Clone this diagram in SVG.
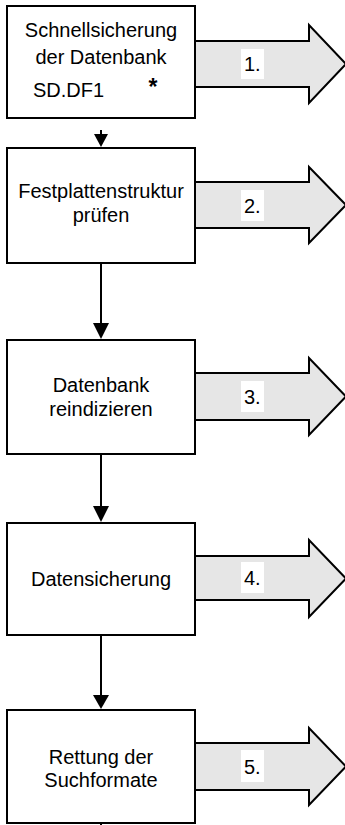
<svg xmlns="http://www.w3.org/2000/svg" width="345" height="825" viewBox="0 0 345 825">
<defs>
<style>
.box{fill:#fff;stroke:#000;stroke-width:2}
.arr{fill:#e6e6e6;stroke:#000;stroke-width:2;stroke-linejoin:miter}
.t{font-family:"Liberation Sans",Arial,sans-serif;font-size:20px;fill:#000;text-anchor:middle}
.n{font-family:"Liberation Sans",Arial,sans-serif;font-size:20px;fill:#000}
.lb{fill:#fff}
.c{stroke:#000;stroke-width:2;fill:none}
.h{fill:#000}
</style>
</defs>
<rect width="345" height="825" fill="#fff"/>
<g id="arrow1">
<path class="arr" d="M195,41 H309 V25 L346,64 L309,103 V87 H195"/>
<rect class="lb" x="241" y="49" width="23" height="30"/>
<text class="n" x="244" y="71">1.</text>
</g>
<g id="arrow2">
<path class="arr" d="M195,182 H309 V167 L346,205 L309,243 V228 H195"/>
<rect class="lb" x="241" y="190" width="23" height="31"/>
<text class="n" x="244" y="213">2.</text>
</g>
<g id="arrow3">
<path class="arr" d="M195,373 H309 V358 L346,396.5 L309,435 V420 H195"/>
<rect class="lb" x="241" y="381" width="23" height="31"/>
<text class="n" x="244" y="404">3.</text>
</g>
<g id="arrow4">
<path class="arr" d="M195,556 H309 V540 L346,578.5 L309,617 V600 H195"/>
<rect class="lb" x="241" y="562" width="23" height="31"/>
<text class="n" x="244" y="585">4.</text>
</g>
<g id="arrow5">
<path class="arr" d="M195,743 H309 V728 L346,766.5 L309,805 V790 H195"/>
<rect class="lb" x="241" y="750" width="23" height="32"/>
<text class="n" x="244" y="774">5.</text>
</g>
<g id="node1">
<rect class="box" x="7" y="6" width="188" height="112"/>
<text class="t" x="101" y="37">Schnellsicherung</text>
<text class="t" x="101" y="64">der Datenbank</text>
<text class="t" x="33" y="97" style="text-anchor:start">SD.DF1</text>
<text class="t" x="153" y="95" style="font-weight:bold;font-size:23px">*</text>
</g>
<g id="node2">
<rect class="box" x="7" y="148" width="188" height="115"/>
<text class="t" x="101" y="198">Festplattenstruktur</text>
<text class="t" x="101" y="222">prüfen</text>
</g>
<g id="node3">
<rect class="box" x="7" y="340" width="188" height="114"/>
<text class="t" x="101" y="392">Datenbank</text>
<text class="t" x="101" y="416">reindizieren</text>
</g>
<g id="node4">
<rect class="box" x="7" y="523" width="188" height="112"/>
<text class="t" x="101" y="586">Datensicherung</text>
</g>
<g id="node5">
<rect class="box" x="7" y="710" width="188" height="113"/>
<text class="t" x="101" y="764">Rettung der</text>
<text class="t" x="101" y="787">Suchformate</text>
</g>
<g id="connectors">
<line class="c" x1="101" y1="130" x2="101" y2="136"/>
<polygon class="h" points="94,134 108,134 101,147"/>
<line class="c" x1="101" y1="264" x2="101" y2="325"/>
<polygon class="h" points="93,323 109,323 101,339"/>
<line class="c" x1="101" y1="455" x2="101" y2="508"/>
<polygon class="h" points="93,506 109,506 101,522"/>
<line class="c" x1="101" y1="636" x2="101" y2="697"/>
<polygon class="h" points="93,695 109,695 101,709"/>
<line class="c" x1="101" y1="822" x2="101" y2="825"/>
</g>
</svg>
